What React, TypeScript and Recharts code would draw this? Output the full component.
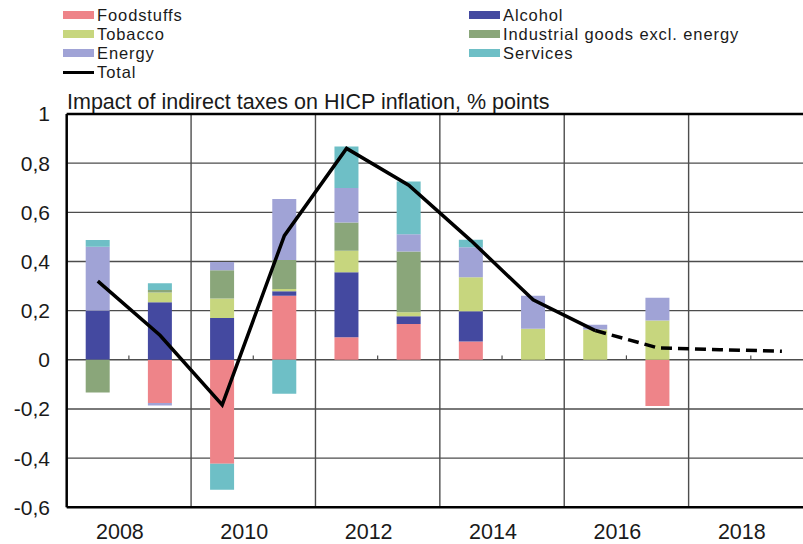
import React from "react";
import {
  ComposedChart,
  Bar,
  Line,
  XAxis,
  YAxis,
  CartesianGrid,
  ReferenceLine,
} from "recharts";

// ---- data ----
const years = [2008, 2009, 2010, 2011, 2012, 2013, 2014, 2015, 2016, 2017, 2018, 2019];
const foodstuffs = [0, -0.176, -0.423, 0.261, 0.092, 0.146, 0.075, 0, 0, -0.188, 0, 0];
const alcohol = [0.2, 0.234, 0.17, 0.018, 0.264, 0.031, 0.123, 0, 0, 0, 0, 0];
const tobacco = [0, 0.04, 0.079, 0.009, 0.088, 0.016, 0.138, 0.126, 0.123, 0.16, 0, 0];
const industrial = [-0.133, 0.01, 0.115, 0.118, 0.115, 0.248, 0, 0, 0, 0, 0, 0];
const energy = [0.26, -0.01, 0.034, 0.248, 0.14, 0.07, 0.122, 0.135, 0.02, 0.092, 0, 0];
const services = [0.027, 0.027, -0.106, -0.138, 0.169, 0.214, 0.03, 0, 0, 0, 0, 0];
const total = [0.32, 0.1, -0.183, 0.505, 0.86, 0.71, 0.485, 0.244, 0.119, null, null, null];
const projection = [null, null, null, null, null, null, null, null, 0.119, 0.049, 0.041, 0.035];

const yTicks = [-0.6, -0.4, -0.2, 0, 0.2, 0.4, 0.6, 0.8, 1];
const labelTicks = [2008.5, 2010.5, 2012.5, 2014.5, 2016.5, 2018.5];
const gridYears = [2009.5, 2011.5, 2013.5, 2015.5, 2017.5];
const title = "Impact of indirect taxes on HICP inflation, % points";

const series = [
  { key: "foodstuffs", name: "Foodstuffs", color: "#EE8489" },
  { key: "alcohol", name: "Alcohol", color: "#4449A0" },
  { key: "tobacco", name: "Tobacco", color: "#C7D67E" },
  { key: "industrial", name: "Industrial goods excl. energy", color: "#8AA67A" },
  { key: "energy", name: "Energy", color: "#A0A3D6" },
  { key: "services", name: "Services", color: "#6EBFC6" },
];

const legendCol1 = ["foodstuffs", "tobacco", "energy"];
const legendCol2 = ["alcohol", "industrial", "services"];

const data = years.map((year, i) => ({
  year,
  foodstuffs: foodstuffs[i],
  alcohol: alcohol[i],
  tobacco: tobacco[i],
  industrial: industrial[i],
  energy: energy[i],
  services: services[i],
  total: total[i],
  projection: projection[i],
}));

const FONT = '"Liberation Sans", Arial, sans-serif';

const fmtY = (v: number) => {
  const r = Math.round(v * 10) / 10;
  return String(r).replace(".", ",");
};

const XTick = (props: any) => {
  const { x, y, payload } = props;
  return (
    <text
      x={x - 9}
      y={y}
      dy="0.71em"
      textAnchor="middle"
      fontSize={21.5}
      fontFamily={FONT}
      fill="#1a1a1a"
    >
      {Math.floor(payload.value)}
    </text>
  );
};

const YTick = (props: any) => {
  const { x, y, payload } = props;
  return (
    <text
      x={x}
      y={y}
      dy="0.355em"
      textAnchor="end"
      fontSize={21}
      fontFamily={FONT}
      fill="#1a1a1a"
    >
      {fmtY(payload.value)}
    </text>
  );
};

const rowCenters = [15, 34, 53, 72];

const LegendRow = ({ left, top, color, name, line }: any) => (
  <div
    style={{
      position: "absolute",
      left,
      top: top - 9.5,
      height: 19,
      display: "flex",
      alignItems: "center",
      whiteSpace: "nowrap",
    }}
  >
    <div
      style={{
        width: 31,
        height: line ? 3 : 8,
        background: color,
        marginRight: 3,
      }}
    />
    <span
      style={{
        fontFamily: FONT,
        fontSize: 16.5,
        lineHeight: "19px",
        letterSpacing: 0.9,
        color: "#1a1a1a",
      }}
    >
      {name}
    </span>
  </div>
);

export default function App() {
  const byKey = (k: string) => series.find((s) => s.key === k)!;
  return (
    <div
      style={{
        position: "absolute",
        left: 0,
        top: 0,
        width: 803,
        height: 544,
        overflow: "hidden",
        background: "#fff",
      }}
    >
      {legendCol1.map((k, i) => (
        <LegendRow key={k} left={63} top={rowCenters[i]} color={byKey(k).color} name={byKey(k).name} />
      ))}
      <LegendRow left={63} top={rowCenters[3]} color="#000" name="Total" line />
      {legendCol2.map((k, i) => (
        <LegendRow key={k} left={469} top={rowCenters[i]} color={byKey(k).color} name={byKey(k).name} />
      ))}
      <div
        style={{
          position: "absolute",
          left: 67,
          top: 91.8,
          fontFamily: FONT,
          fontSize: 21.5,
          lineHeight: 1,
          color: "#1a1a1a",
          whiteSpace: "nowrap",
        }}
      >
        {title}
      </div>
      <div style={{ position: "absolute", left: 0, top: 0 }}>
        <ComposedChart
          width={815}
          height={544}
          data={data}
          stackOffset="sign"
          margin={{ top: 114, right: 2, bottom: 6.7, left: 6.7 }}
          barCategoryGap={0}
        >
          <CartesianGrid vertical={false} stroke="#4d4d4d" strokeWidth={1.4} />
          <XAxis
            xAxisId="num"
            dataKey="year"
            type="number"
            domain={[2007.5, 2019.5]}
            allowDataOverflow
            ticks={labelTicks}
            tick={<XTick />}
            tickLine={false}
            tickSize={0}
            tickMargin={16.4}
            height={30}
            axisLine={{ stroke: "#000", strokeWidth: 2.5 }}
          />
          <XAxis dataKey="year" xAxisId={0} hide height={0} />
          <YAxis
            domain={[-0.6, 1]}
            ticks={yTicks}
            allowDataOverflow
            width={60}
            tick={<YTick />}
            tickLine={false}
            tickSize={0}
            tickMargin={16.7}
            axisLine={{ stroke: "#000", strokeWidth: 2.5 }}
          />
          {gridYears.map((g) => (
            <ReferenceLine key={g} xAxisId="num" x={g} stroke="#4d4d4d" strokeWidth={1.4} />
          ))}
          {labelTicks.map((t) => (
            <ReferenceLine
              key={"m" + t}
              xAxisId="num"
              segment={[
                { x: t, y: 0 },
                { x: t, y: 0.018 },
              ]}
              stroke="#4d4d4d"
              strokeWidth={1.2}
            />
          ))}
          <ReferenceLine xAxisId="num" y={1} stroke="#000" strokeWidth={2.5} />
          {series.map((s) => (
            <Bar
              key={s.key}
              dataKey={s.key}
              name={s.name}
              stackId="a"
              fill={s.color}
              barSize={24}
              isAnimationActive={false}
            />
          ))}
          <Line
            dataKey="total"
            stroke="#000"
            strokeWidth={3.5}
            dot={false}
            type="linear"
            isAnimationActive={false}
          />
          <Line
            dataKey="projection"
            stroke="#000"
            strokeWidth={3.5}
            strokeDasharray="11 6"
            dot={false}
            type="linear"
            isAnimationActive={false}
          />
        </ComposedChart>
      </div>
    </div>
  );
}
